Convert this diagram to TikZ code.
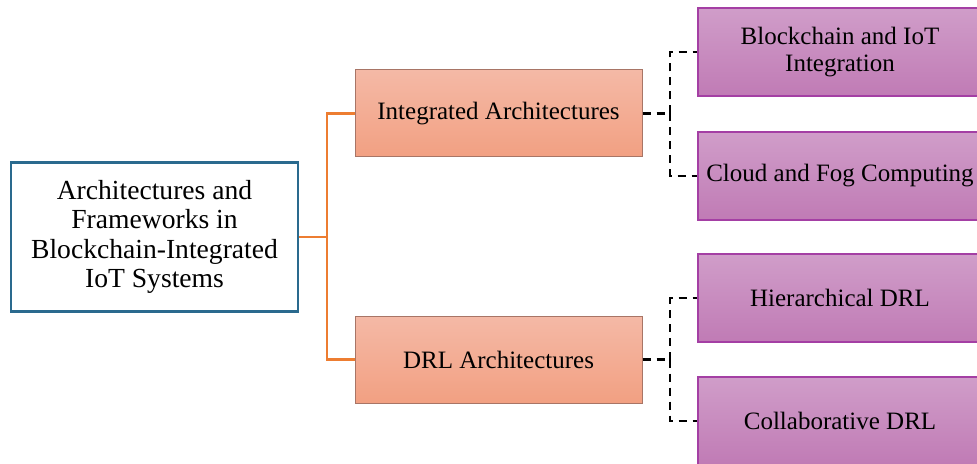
\documentclass[tikz,border=0pt]{standalone}
\usepackage{fontspec}
\setmainfont{Liberation Serif}
\begin{document}
\begin{tikzpicture}[x=0.5pt,y=-0.5pt,
  rootbox/.style={draw=rootblue,line width=1.2pt,fill=white,minimum width=143.5pt,minimum height=74.5pt,align=center,inner sep=0pt,font=\fontsize{13.8}{14.75}\selectfont},
  midbox/.style={draw=midborder,line width=0.5pt,top color=midtop,bottom color=midbot,minimum width=143.5pt,minimum height=43.5pt,align=center,inner sep=0pt,font=\fontsize{12.5}{13.6}\selectfont},
  leafbox/.style={draw=leafborder,line width=0.8pt,top color=leaftop,bottom color=leafbot,minimum width=142pt,minimum height=44pt,align=center,inner sep=0pt,font=\fontsize{12.5}{13.6}\selectfont},
  orangeline/.style={draw=lineorange,line width=1.2pt},
  dashline/.style={draw=black,line width=1.3pt,dash pattern=on 4pt off 3pt}
]
\definecolor{rootblue}{HTML}{2A6A8E}
\definecolor{midborder}{HTML}{A87566}
\definecolor{midtop}{HTML}{F4B9A6}
\definecolor{midbot}{HTML}{F2A082}
\definecolor{leafborder}{HTML}{A43FA4}
\definecolor{leaftop}{HTML}{D09DC9}
\definecolor{leafbot}{HTML}{C07BB5}
\definecolor{lineorange}{HTML}{ED7D31}
\useasboundingbox (0,0) rectangle (977,464);
\begin{scope}
\clip (0,0) rectangle (977,464);
\node[rootbox] (root) at (154.5,237) {Architectures and\\Frameworks in\\Blockchain-Integrated\\IoT Systems};
\node[midbox] (ia) at (498.5,113.5) {Integrated Architectures};
\node[midbox] (drl) at (498.5,359.5) {DRL Architectures};
\node[leafbox] (b1) at (840,52) {Blockchain and IoT\\Integration};
\node[leafbox] (b2) at (840,176) {Cloud and Fog Computing};
\node[leafbox] (b3) at (840,298) {Hierarchical DRL};
\node[leafbox] (b4) at (840,421) {Collaborative DRL};
\coordinate (j1) at (327,237);
\coordinate (j2) at (670,113.5);
\coordinate (j3) at (670,359.5);
\draw[orangeline] (root.east) -- (j1);
\draw[orangeline] (j1) |- (ia.west);
\draw[orangeline] (j1) |- (drl.west);
\draw[dashline] (ia.east) -- (j2);
\draw[dashline] (j2) |- (b1.west);
\draw[dashline] (j2) |- (b2.west);
\draw[dashline] (drl.east) -- (j3);
\draw[dashline] (j3) |- (b3.west);
\draw[dashline] (j3) |- (b4.west);
\end{scope}
\end{tikzpicture}
\end{document}
